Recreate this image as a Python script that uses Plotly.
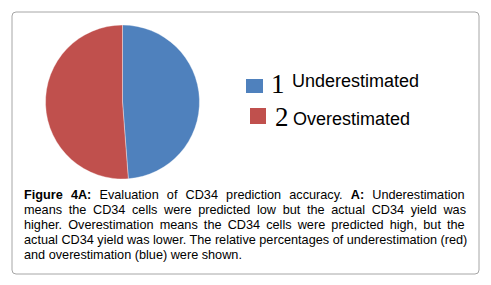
import plotly.graph_objects as go

# ---- data ----
categories = ["Underestimated", "Overestimated"]
category_numbers = ["1", "2"]
values = [48.8, 51.2]
colors = ["#4F81BD", "#C0504D"]

caption_lines = [
    "<b>Figure 4A:</b> Evaluation of CD34 prediction accuracy. <b>A:</b> Underestimation",
    "means the CD34 cells were predicted low but the actual CD34 yield was",
    "higher. Overestimation means the CD34 cells were predicted high, but the",
    "actual CD34 yield was lower. The relative percentages of underestimation (red)",
    "and overestimation (blue) were shown.",
]

# page offset (default body margin) compensation
OFF = 8
W, H = 491 - OFF, 285 - OFF


def px(x):
    return (x - OFF) / W


def py(y):
    return 1 - (y - OFF) / H


fig = go.Figure()
fig.add_trace(go.Pie(
    labels=categories,
    values=values,
    sort=False,
    direction="clockwise",
    rotation=0,
    marker=dict(colors=colors, line=dict(color="rgba(255,255,255,0.6)", width=0.6)),
    textinfo="none",
    hoverinfo="label+percent",
    showlegend=False,
    domain=dict(x=[px(45.5), px(199.5)], y=[py(179), py(25)]),
))

shapes = []
annotations = []

# rounded border
x0, y0, x1, y1, r = 12, 12, 479, 274, 4
path = (f"M {px(x0 + r)} {py(y0)} L {px(x1 - r)} {py(y0)} "
        f"Q {px(x1)} {py(y0)} {px(x1)} {py(y0 + r)} L {px(x1)} {py(y1 - r)} "
        f"Q {px(x1)} {py(y1)} {px(x1 - r)} {py(y1)} L {px(x0 + r)} {py(y1)} "
        f"Q {px(x0)} {py(y1)} {px(x0)} {py(y1 - r)} L {px(x0)} {py(y0 + r)} "
        f"Q {px(x0)} {py(y0)} {px(x0 + r)} {py(y0)} Z")
shapes.append(dict(type="path", path=path, xref="paper", yref="paper",
                   line=dict(color="#A6A6A6", width=1)))

# manual legend
legend_boxes = [(246, 79, 263, 93), (250, 108, 266, 124)]
num_x = [269, 273]
num_base = [93, 126]
lab_x = [290, 291]
lab_base = [87, 125]
for i in range(len(categories)):
    bx0, by0, bx1, by1 = legend_boxes[i]
    shapes.append(dict(type="rect", xref="paper", yref="paper",
                       x0=px(bx0), x1=px(bx1), y0=py(by1), y1=py(by0),
                       fillcolor=colors[i], line=dict(width=0)))
    annotations.append(dict(text=category_numbers[i], xref="paper", yref="paper",
                            x=px(num_x[i]), y=py(num_base[i] - 0.33 * 27),
                            xanchor="left", yanchor="middle", showarrow=False,
                            font=dict(family="Liberation Serif", size=27, color="#000000")))
    annotations.append(dict(text=categories[i], xref="paper", yref="paper",
                            x=px(lab_x[i]), y=py(lab_base[i] - 0.33 * 18),
                            xanchor="left", yanchor="middle", showarrow=False,
                            font=dict(family="Liberation Sans", size=18, color="#000000")))

# caption
word_spacing = [4.6, 3.1, 2.6, 0, 0]
base0 = 199.5
for i, line in enumerate(caption_lines):
    txt = f'<span style="word-spacing:{word_spacing[i]}px">{line}</span>'
    annotations.append(dict(text=txt, xref="paper", yref="paper",
                            x=px(22), y=py(base0 + 15 * i - 0.33 * 12.7),
                            xanchor="left", yanchor="middle", showarrow=False,
                            font=dict(family="Liberation Sans", size=12.7, color="#000000")))

fig.update_layout(
    width=W, height=H,
    margin=dict(l=0, r=0, t=0, b=0),
    paper_bgcolor="white", plot_bgcolor="white",
    shapes=shapes, annotations=annotations,
)
fig.write_html("out.html")
